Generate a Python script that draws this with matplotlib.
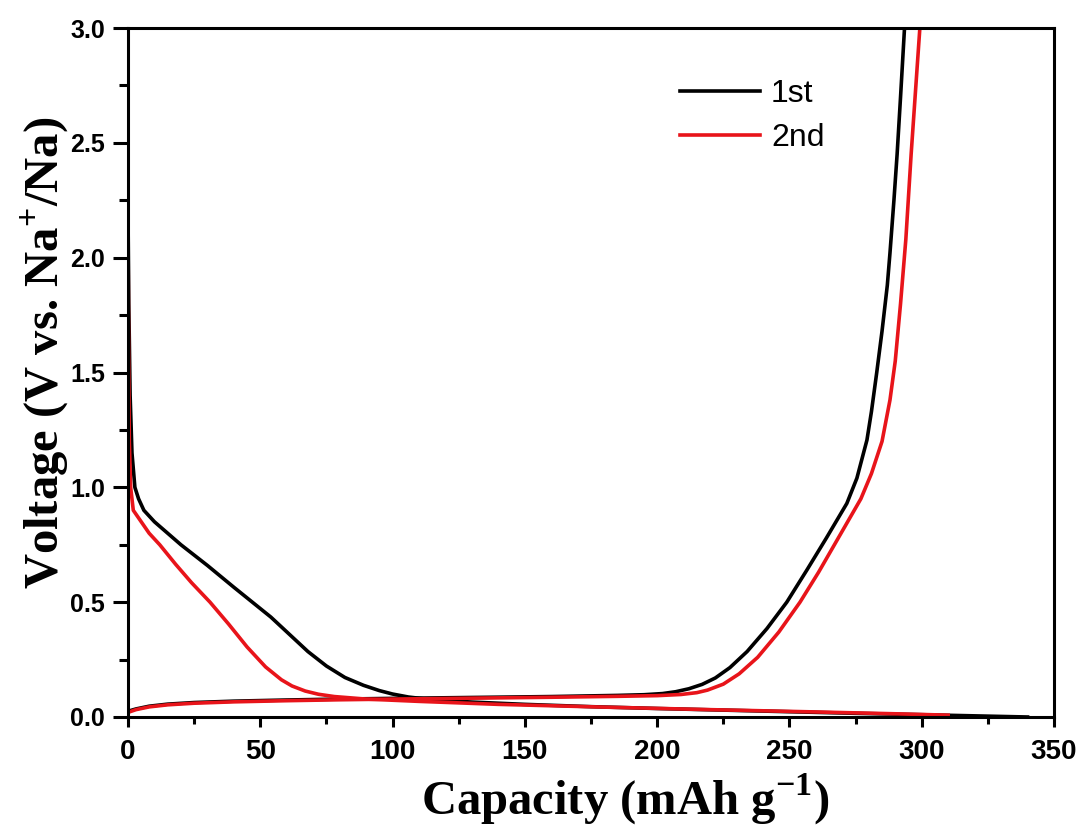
import matplotlib
matplotlib.use("Agg")
import matplotlib.pyplot as plt
from matplotlib.ticker import MultipleLocator, FormatStrFormatter

# 1st cycle (black)
cap_dis_1st = [0, 0.3, 0.8, 1.5, 2.6, 4, 6, 10, 15, 20, 30, 40, 47, 54, 61, 68, 75, 82, 89, 95, 100,
               106, 115, 130, 150, 175, 200, 225, 250, 275, 300, 320, 340]
v_dis_1st = [2.2, 1.8, 1.4, 1.15, 1.0, 0.95, 0.9, 0.85, 0.8, 0.75, 0.66, 0.565, 0.5, 0.435, 0.36, 0.285,
             0.222, 0.172, 0.138, 0.115, 0.1, 0.087, 0.075, 0.065, 0.055, 0.045, 0.037, 0.03, 0.023,
             0.016, 0.01, 0.005, 0.0]
cap_chg_1st = [0, 3, 8, 15, 25, 40, 60, 80, 100, 130, 160, 185, 195, 202, 207, 212, 217, 222, 227.5,
               234, 241.5, 249, 256.6, 264, 271.7, 275.5, 279.3, 281, 283, 285, 287, 288, 289.5,
               290.7, 292, 293.5]
v_chg_1st = [0.025, 0.035, 0.047, 0.056, 0.063, 0.069, 0.074, 0.078, 0.081, 0.085, 0.089, 0.094, 0.097,
             0.102, 0.11, 0.123, 0.142, 0.17, 0.215, 0.285, 0.385, 0.5, 0.64, 0.78, 0.93, 1.04, 1.206,
             1.33, 1.5, 1.68, 1.88, 2.02, 2.25, 2.45, 2.7, 3.0]

# 2nd cycle (red)
cap_dis_2nd = [0, 0.2, 0.5, 1, 2, 5, 8, 12, 18, 24, 31, 38, 45, 52, 58, 62, 67, 72, 78, 90, 110,
               140, 180, 220, 260, 290, 310]
v_dis_2nd = [2.2, 1.6, 1.2, 1.0, 0.9, 0.85, 0.8, 0.75, 0.665, 0.585, 0.5, 0.405, 0.305, 0.218, 0.162,
             0.135, 0.113, 0.099, 0.089, 0.078, 0.068, 0.055, 0.043, 0.032, 0.022, 0.014, 0.008]
cap_chg_2nd = [0, 3, 8, 15, 25, 40, 60, 80, 100, 130, 160, 185, 200, 209, 215, 219, 225, 231, 238,
               246, 254, 261, 268, 273, 277, 281, 285, 288, 290, 292, 294, 296, 297.5, 299.3]
v_chg_2nd = [0.02, 0.032, 0.044, 0.053, 0.06, 0.066, 0.071, 0.075, 0.078, 0.082, 0.086, 0.09, 0.093,
             0.098, 0.106, 0.117, 0.143, 0.188, 0.26, 0.37, 0.5, 0.63, 0.77, 0.87, 0.95, 1.06, 1.2,
             1.38, 1.55, 1.8, 2.08, 2.45, 2.7, 3.0]

labels = ["1st", "2nd"]
colors = ["#000000", "#e8141a"]
x_ticks_major = 50
y_ticks_major = 0.5

fig = plt.figure(figsize=(10.85, 8.32), dpi=100)
ax = fig.add_axes([128 / 1085, 1 - 717 / 832, (1054 - 128) / 1085, (717 - 28) / 832])

lw = 2.6
ax.plot(cap_dis_1st, v_dis_1st, color=colors[0], lw=lw, label=labels[0], solid_joinstyle="round")
ax.plot(cap_chg_1st, v_chg_1st, color=colors[0], lw=lw, solid_joinstyle="round")
ax.plot(cap_dis_2nd, v_dis_2nd, color=colors[1], lw=lw, label=labels[1], solid_joinstyle="round")
ax.plot(cap_chg_2nd, v_chg_2nd, color=colors[1], lw=lw, solid_joinstyle="round")

ax.set_xlim(0, 350)
ax.set_ylim(0, 3.0)
ax.xaxis.set_major_locator(MultipleLocator(x_ticks_major))
ax.xaxis.set_minor_locator(MultipleLocator(x_ticks_major / 2))
ax.yaxis.set_major_locator(MultipleLocator(y_ticks_major))
ax.yaxis.set_minor_locator(MultipleLocator(y_ticks_major / 2))
ax.yaxis.set_major_formatter(FormatStrFormatter("%.1f"))

for s in ax.spines.values():
    s.set_linewidth(2.2)
ax.tick_params(which="both", direction="out", width=2.2, top=False, right=False)
ax.tick_params(axis="x", which="major", length=7.5, pad=8)
ax.tick_params(axis="x", which="minor", length=5)
ax.tick_params(axis="y", which="major", length=10.5, pad=6)
ax.tick_params(axis="y", which="minor", length=6.5)
for lab in ax.get_xticklabels():
    lab.set_fontfamily("Liberation Sans")
    lab.set_fontweight("bold")
    lab.set_fontsize(20)
for lab in ax.get_yticklabels():
    lab.set_fontfamily("Liberation Sans")
    lab.set_fontweight("bold")
    lab.set_fontsize(18)

ax.set_xlabel("Capacity (mAh g$^{\\mathregular{-1}}$)", fontfamily="Liberation Serif",
              fontweight="bold", fontsize=35, va="baseline")
ax.set_ylabel("Voltage (V vs. Na$^{\\mathregular{+}}$/Na)", fontfamily="Liberation Serif",
              fontweight="bold", fontsize=35, va="baseline", rotation_mode="anchor")
ax.xaxis.set_label_coords(0.5367, -0.142)
ax.yaxis.set_label_coords(-0.0745, 0.528)

leg = ax.legend(loc="center left", bbox_to_anchor=(0.596, 0.872), frameon=False,
                borderpad=0, borderaxespad=0, handlelength=2.5, handletextpad=0.35,
                labelspacing=0.45, prop={"family": "Liberation Sans", "size": 23})

fig.savefig("out.png", dpi=100)
